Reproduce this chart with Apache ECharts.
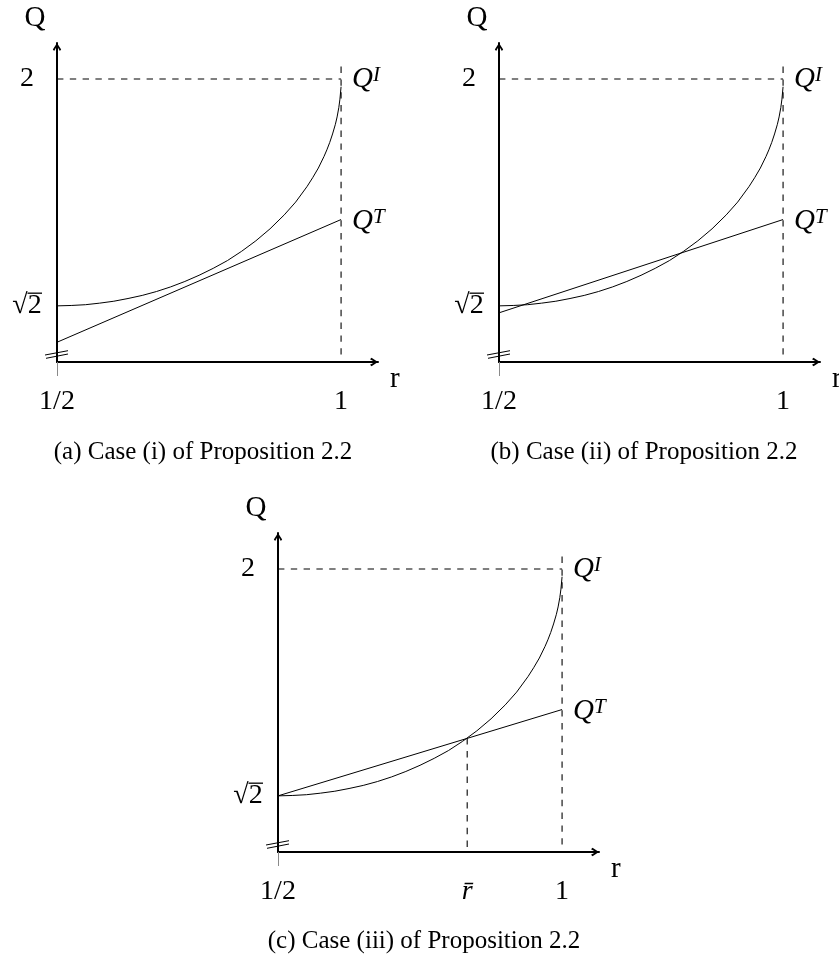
<!DOCTYPE html>
<html>
<head>
<meta charset="utf-8">
<script src="https://cdn.jsdelivr.net/npm/echarts@6/dist/echarts.min.js"></script>
<style>
  html, body { margin: 0; padding: 0; background: #ffffff; }
  #chart { width: 839px; height: 959px; }
</style>
</head>
<body>
<div id="chart"></div>
<script>
// Q^I curve, sampled along r in [1/2, 1]
const rSamples = [0.5, 0.525, 0.55, 0.575, 0.6, 0.625, 0.65, 0.675, 0.7, 0.725, 0.75, 0.775, 0.8, 0.825,
                  0.85, 0.875, 0.9, 0.92, 0.94, 0.95, 0.96, 0.97, 0.975, 0.98, 0.985, 0.99, 0.993, 0.996, 0.998, 1.0];
const qIdeal   = [1.414, 1.415, 1.417, 1.421, 1.426, 1.433, 1.441, 1.451, 1.463, 1.477, 1.493, 1.511, 1.531, 1.555,
                  1.582, 1.613, 1.649, 1.682, 1.722, 1.745, 1.770, 1.800, 1.817, 1.836, 1.858, 1.883, 1.902, 1.926, 1.948, 1.980];

// Q^T is a straight line; values at r = 1/2 and r = 1 for each case
const rEnds   = [0.5, 1];
const qTradeA = [1.320, 1.637];
const qTradeB = [1.396, 1.637];
const qTradeC = [1.414, 1.637];

// crossing point r̄ of Q^I and Q^T in case (iii)
const rBar    = 0.833;
const qAtRBar = 1.563;

// reference levels
const qMax    = 2;
const qSqrt2  = Math.SQRT2;
const rHalf   = 0.5;
const rOne    = 1;
const dashTop = 2.032;

// axis ticks and their labels
const yTickValues  = [qSqrt2, qMax];
const yTickText    = ['√2', '2'];
const xTickValues  = [rHalf, rOne];
const xTickText    = ['1/2', '1'];
const xTickValuesC = [rHalf, rBar, rOne];
const xTickTextC   = ['1/2', '{it|r̄}', '1'];

const captions = [
  '(a) Case (i) of Proposition 2.2',
  '(b) Case (ii) of Proposition 2.2',
  '(c) Case (iii) of Proposition 2.2'
];

// axis extents (arrow tips sit at the max ends)
const X_MIN = 0.5, X_MAX = 1.065;
const Y_MIN = 1.269, Y_MAX = 2.093;

const FONT = 'Liberation Serif';
const INK = '#000000';
const LABEL_MARGIN_Y = 30;

const panels = [
  { left: 57,  top: 43,  qT: qTradeA, xv: xTickValues,  xt: xTickText,  caption: captions[0], cx: 203, cy: 452 },
  { left: 499, top: 43,  qT: qTradeB, xv: xTickValues,  xt: xTickText,  caption: captions[1], cx: 644, cy: 452 },
  { left: 278, top: 533, qT: qTradeC, xv: xTickValuesC, xt: xTickTextC, caption: captions[2], cx: 424, cy: 941 }
];
const GRID_W = 321, GRID_H = 319;

// open "to"-style arrow head, pointing up
const ARROW = 'path://M5,0 L10,7.8 L8.4,9.6 L5,3.6 L1.6,9.6 L0,7.8 Z';
const ARROW_SIZE = [12, 8];

const qRich = {
  q: { fontFamily: FONT, fontStyle: 'italic', fontSize: 29, color: INK, lineHeight: 30 },
  s: { fontFamily: FONT, fontStyle: 'italic', fontSize: 21, color: INK, verticalAlign: 'top', lineHeight: 18 }
};

const grids = [], xAxes = [], yAxes = [], series = [];

panels.forEach((p, i) => {
  grids.push({ left: p.left, top: p.top, width: GRID_W, height: GRID_H, containLabel: false, outerBoundsMode: 'none' });

  xAxes.push({
    type: 'value', gridIndex: i, min: X_MIN, max: X_MAX,
    name: 'r', nameLocation: 'end', nameGap: 12,
    nameTextStyle: { fontFamily: FONT, fontSize: 29, color: INK, verticalAlign: 'top', padding: [3, 0, 0, 0] },
    axisLine: { show: true, onZero: false, symbol: ['none', ARROW], symbolSize: ARROW_SIZE,
                symbolOffset: [0, -ARROW_SIZE[1] / 2], lineStyle: { color: INK, width: 2 } },
    axisTick: { show: true, customValues: [rHalf], length: 14, lineStyle: { color: '#8a8a8a', width: 1 } },
    axisLabel: {
      show: true, customValues: p.xv, margin: 26,
      fontFamily: FONT, fontSize: 28, color: INK,
      formatter: (v) => p.xt[p.xv.findIndex(t => Math.abs(t - v) < 1e-9)],
      rich: { it: { fontFamily: FONT, fontStyle: 'italic', fontSize: 28, color: INK } }
    },
    splitLine: { show: false }
  });

  yAxes.push({
    type: 'value', gridIndex: i, min: Y_MIN, max: Y_MAX,
    name: 'Q', nameLocation: 'end', nameGap: 10,
    nameTextStyle: { fontFamily: FONT, fontSize: 29, color: INK, align: 'center', padding: [0, 44, 0, 0] },
    axisLine: { show: true, onZero: false, symbol: ['none', ARROW], symbolSize: ARROW_SIZE,
                symbolOffset: [0, -ARROW_SIZE[1] / 2], lineStyle: { color: INK, width: 2 } },
    axisTick: { show: false },
    axisLabel: {
      show: true, customValues: yTickValues, margin: LABEL_MARGIN_Y, align: 'center',
      fontFamily: FONT, fontSize: 28, color: INK,
      formatter: (v) => yTickText[yTickValues.findIndex(t => Math.abs(t - v) < 1e-9)]
    },
    splitLine: { show: false }
  });

  const dashed = { color: INK, width: 1.1, type: [6.4, 6.4] };
  const base = { type: 'line', xAxisIndex: i, yAxisIndex: i, showSymbol: false, symbol: 'none',
                 silent: true, animation: false, smooth: false, z: 3 };

  // Q^I
  series.push(Object.assign({}, base, {
    name: 'QI-' + i,
    data: rSamples.map((r, k) => [r, qIdeal[k]]),
    lineStyle: { color: INK, width: 1 },
    endLabel: { show: true, formatter: '{q|Q}{s|I}', distance: 11, offset: [0, -7], rich: qRich }
  }));
  // Q^T
  series.push(Object.assign({}, base, {
    name: 'QT-' + i,
    data: rEnds.map((r, k) => [r, p.qT[k]]),
    lineStyle: { color: INK, width: 1 },
    endLabel: { show: true, formatter: '{q|Q}{s|T}', distance: 11, offset: [0, 2], rich: qRich }
  }));
  // Q = 2 guide
  series.push(Object.assign({}, base, {
    name: 'top-' + i, data: [[rHalf, qMax], [rOne, qMax]], lineStyle: dashed, z: 2
  }));
  // r = 1 guide
  series.push(Object.assign({}, base, {
    name: 'right-' + i, data: [[rOne, dashTop], [rOne, Y_MIN]], lineStyle: dashed, z: 2
  }));
  if (i === 2) {
    // r = r̄ guide
    series.push(Object.assign({}, base, {
      name: 'rbar', data: [[rBar, qAtRBar], [rBar, Y_MIN]], lineStyle: dashed, z: 2
    }));
  }
});

const chart = echarts.init(document.getElementById('chart'), null, { renderer: 'canvas' });
chart.setOption({
  backgroundColor: '#ffffff',
  animation: false,
  textStyle: { fontFamily: FONT },
  grid: grids, xAxis: xAxes, yAxis: yAxes, series: series
});

// axis-break marks near each origin, radical bar over the √2 label, and the captions
const graphics = [];
panels.forEach((p, i) => {
  const o = chart.convertToPixel({ xAxisIndex: i, yAxisIndex: i }, [X_MIN, Y_MIN]);
  const s2 = chart.convertToPixel({ xAxisIndex: i, yAxisIndex: i }, [X_MIN, qSqrt2]);
  const seg = (x1, y1, x2, y2, w) => ({
    type: 'line', silent: true, z: 10,
    shape: { x1: x1, y1: y1, x2: x2, y2: y2 },
    style: { stroke: INK, lineWidth: w || 1 }
  });
  graphics.push(seg(o[0] - 12, o[1] - 7, o[0] + 11, o[1] - 11.3));
  graphics.push(seg(o[0] - 11, o[1] - 3.7, o[0] + 11, o[1] - 8));
  const lc = s2[0] - LABEL_MARGIN_Y;
  graphics.push(seg(lc + 0.5, s2[1] - 12.6, lc + 15, s2[1] - 12.6, 1.3));
  graphics.push({
    type: 'text', silent: true, x: p.cx, y: p.cy,
    style: { text: p.caption, fontFamily: FONT, fontSize: 25, fill: INK,
             textAlign: 'center', textVerticalAlign: 'middle' }
  });
});
chart.setOption({ graphic: graphics });
</script>
</body>
</html>
